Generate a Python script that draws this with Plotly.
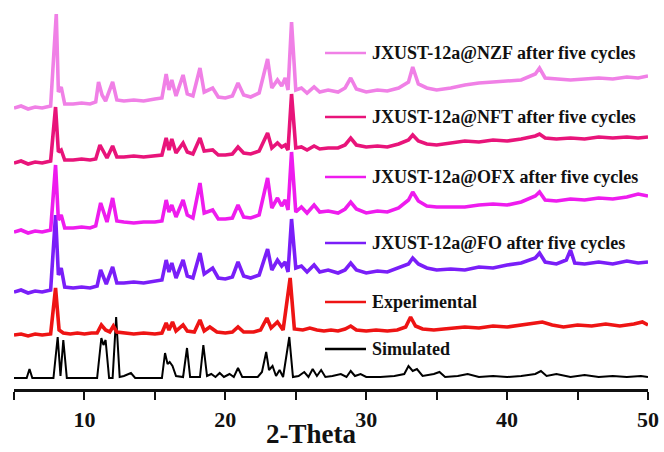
import plotly.graph_objects as go

# Powder XRD patterns, (2-theta, relative intensity) pairs, stacked bottom to top
SIMULATED = [
    (5.0, 0), (5.9, 0), (6.1, 9), (6.3, 0), (7.8, 0), (8.1, 41), (8.3, 2), (8.5, 38), (8.75, 0),
    (10.9, 0), (11.2, 40), (11.35, 33), (11.5, 38), (11.75, 0), (12.0, 0), (12.25, 61), (12.5, 1),
    (12.8, 2), (13.3, 5), (13.6, 0), (15.5, 0), (15.72, 25), (15.9, 14), (16.05, 16), (16.25, 12),
    (16.5, 2), (17.0, 1), (17.28, 30), (17.5, 1), (18.2, 1), (18.44, 33), (18.7, 2), (19.0, 4),
    (19.3, 1), (19.6, 5), (19.9, 1), (20.3, 4), (20.6, 1), (20.9, 10), (21.2, 1), (22.3, 1),
    (22.6, 6), (22.9, 26), (23.1, 8), (23.35, 12), (23.6, 2), (23.85, 8), (24.1, 1), (24.54, 41),
    (24.8, 1), (25.2, 2), (25.6, 6), (25.9, 1), (26.2, 9), (26.5, 2), (26.8, 8), (27.1, 1),
    (27.6, 2), (28.2, 4), (28.6, 1), (28.9, 7), (29.2, 2), (29.6, 4), (30.0, 1), (31.0, 1),
    (32.0, 2), (32.7, 4), (33.0, 12), (33.3, 7), (33.6, 9), (34.0, 2), (34.8, 4), (35.2, 6),
    (35.6, 1), (36.5, 2), (37.2, 4), (38.0, 1), (39.0, 2), (40.0, 1), (41.0, 2), (42.0, 4),
    (42.4, 7), (42.8, 2), (43.5, 4), (44.5, 1), (45.5, 3), (46.5, 1), (47.5, 2), (48.5, 1),
    (49.5, 2), (50.0, 1),
]

EXPERIMENTAL = [
    (5.0, 0), (5.5, 1), (6.0, -1), (6.5, 1), (7.0, 0), (7.6, 1), (7.95, 47), (8.2, 5), (8.5, 2),
    (9.0, 1), (9.5, 2), (10.0, 1), (10.5, 2), (10.9, 2), (11.2, 10), (11.5, 5), (11.8, 3),
    (12.05, 9), (12.3, 3), (12.8, 2), (13.5, 1), (14.2, 2), (15.0, 1), (15.5, 2), (15.8, 12),
    (16.0, 5), (16.25, 13), (16.5, 4), (17.0, 10), (17.3, 4), (17.8, 3), (18.2, 15), (18.5, 4),
    (18.9, 8), (19.4, 3), (20.0, 2), (20.5, 3), (20.9, 8), (21.3, 3), (22.0, 3), (22.5, 5),
    (22.95, 17), (23.25, 7), (23.7, 13), (24.1, 5), (24.6, 57), (24.9, 6), (25.5, 5), (26.0, 7),
    (26.5, 5), (27.0, 4), (27.5, 5), (28.0, 4), (28.5, 6), (28.9, 9), (29.3, 5), (30.0, 4),
    (30.7, 5), (31.5, 4), (32.2, 5), (32.8, 8), (33.15, 18), (33.5, 9), (34.0, 6), (34.8, 5),
    (35.5, 6), (36.3, 7), (37.0, 8), (38.0, 7), (39.0, 9), (40.0, 8), (41.0, 10), (42.0, 12),
    (42.5, 13), (43.2, 10), (44.0, 8), (45.0, 10), (46.0, 9), (47.0, 11), (48.0, 9), (49.0, 11),
    (49.6, 13), (50.0, 10),
]

FO_CYCLED = [
    (5.0, 0), (5.5, 2), (6.0, -1), (6.5, 1), (7.0, 0), (7.6, 2), (7.95, 77), (8.15, 17), (8.35, 24),
    (8.6, 5), (9.2, 4), (9.8, 5), (10.4, 4), (10.9, 6), (11.15, 22), (11.35, 14), (11.55, 8),
    (12.0, 25), (12.3, 9), (12.8, 9), (13.5, 10), (14.2, 9), (15.0, 11), (15.5, 12), (15.8, 32),
    (16.0, 20), (16.2, 29), (16.5, 14), (17.0, 32), (17.3, 16), (17.7, 14), (18.2, 39), (18.5, 18),
    (19.1, 24), (19.5, 14), (20.0, 13), (20.5, 15), (20.9, 30), (21.3, 16), (21.8, 14), (22.4, 17),
    (23.0, 43), (23.3, 22), (23.7, 32), (24.0, 26), (24.25, 30), (24.45, 20), (24.7, 73), (25.0, 24),
    (25.4, 26), (25.8, 20), (26.3, 27), (26.7, 20), (27.3, 22), (28.0, 19), (28.5, 22), (28.9, 29),
    (29.3, 22), (30.0, 19), (30.8, 21), (31.5, 20), (32.3, 24), (33.0, 28), (33.3, 34), (33.7, 28),
    (34.3, 24), (35.0, 22), (36.0, 23), (37.0, 22), (38.0, 25), (39.0, 24), (40.0, 27), (41.0, 29),
    (42.0, 34), (42.3, 39), (42.7, 30), (43.5, 28), (44.2, 32), (44.5, 42), (44.8, 29), (45.5, 28),
    (46.5, 30), (47.5, 28), (48.5, 31), (49.3, 29), (50.0, 30),
]

OFX_CYCLED = [
    (5.0, 0), (5.5, 2), (6.0, -1), (6.5, 1), (7.0, 0), (7.6, 2), (7.95, 67), (8.15, 12), (8.35, 17),
    (8.6, 4), (9.2, 4), (9.8, 5), (10.4, 4), (10.8, 6), (11.15, 29), (11.35, 20), (11.6, 10),
    (12.0, 34), (12.3, 11), (12.8, 10), (13.5, 9), (14.2, 10), (15.0, 10), (15.5, 11), (15.8, 32),
    (16.0, 20), (16.2, 27), (16.5, 15), (17.0, 32), (17.3, 17), (17.7, 14), (18.2, 49), (18.5, 19),
    (19.1, 22), (19.5, 13), (20.0, 13), (20.5, 14), (20.9, 27), (21.3, 15), (21.8, 14), (22.4, 17),
    (23.0, 54), (23.3, 24), (23.7, 34), (24.0, 26), (24.25, 32), (24.45, 22), (24.7, 80), (25.0, 20),
    (25.4, 25), (25.8, 19), (26.3, 27), (26.7, 20), (27.3, 21), (28.0, 19), (28.5, 23), (28.9, 30),
    (29.3, 23), (30.0, 19), (30.8, 21), (31.5, 20), (32.3, 24), (33.0, 32), (33.3, 40), (33.7, 31),
    (34.3, 26), (35.0, 25), (36.0, 25), (37.0, 25), (38.0, 27), (39.0, 28), (40.0, 27), (41.0, 30),
    (42.0, 36), (42.3, 40), (42.7, 32), (43.5, 31), (44.5, 33), (45.5, 32), (46.5, 34), (47.5, 33),
    (48.5, 35), (49.3, 38), (50.0, 36),
]

NFT_CYCLED = [
    (5.0, 0), (5.5, 2), (6.0, -1), (6.5, 1), (7.0, 0), (7.6, 2), (7.95, 56), (8.15, 11), (8.35, 13),
    (8.6, 3), (9.2, 3), (9.8, 4), (10.4, 3), (10.8, 4), (11.1, 18), (11.35, 11), (11.6, 5),
    (12.0, 17), (12.3, 6), (12.8, 6), (13.5, 7), (14.2, 6), (15.0, 7), (15.5, 8), (15.8, 25),
    (16.0, 13), (16.2, 24), (16.5, 10), (17.0, 20), (17.3, 11), (17.7, 9), (18.2, 25), (18.5, 12),
    (19.1, 13), (19.5, 8), (20.0, 8), (20.5, 9), (20.9, 16), (21.3, 10), (21.8, 9), (22.4, 12),
    (23.0, 30), (23.3, 15), (23.7, 20), (24.0, 16), (24.25, 18), (24.45, 13), (24.7, 69), (25.0, 15),
    (25.4, 16), (25.8, 13), (26.3, 17), (26.7, 14), (27.3, 15), (28.0, 15), (28.5, 18), (28.9, 25),
    (29.3, 18), (30.0, 16), (30.8, 17), (31.5, 16), (32.3, 19), (33.0, 23), (33.3, 28), (33.7, 22),
    (34.3, 19), (35.0, 18), (36.0, 20), (37.0, 22), (38.0, 21), (39.0, 23), (40.0, 22), (41.0, 24),
    (42.0, 27), (42.3, 29), (42.7, 25), (43.5, 24), (44.5, 25), (45.5, 24), (46.5, 26), (47.5, 25),
    (48.5, 26), (49.3, 25), (50.0, 26),
]

NZF_CYCLED = [
    (5.0, 0), (5.5, 2), (6.0, -1), (6.5, 1), (7.0, 0), (7.6, 2), (8.0, 94), (8.15, 16), (8.35, 21),
    (8.6, 4), (9.2, 4), (9.8, 5), (10.4, 4), (10.8, 6), (11.0, 26), (11.25, 13), (11.5, 7),
    (12.0, 26), (12.3, 8), (12.8, 7), (13.5, 8), (14.2, 7), (15.0, 9), (15.5, 10), (15.8, 34),
    (16.0, 18), (16.2, 28), (16.5, 12), (17.0, 33), (17.3, 14), (17.7, 12), (18.2, 40), (18.5, 16),
    (19.1, 20), (19.5, 11), (20.0, 10), (20.5, 12), (20.9, 25), (21.3, 13), (21.8, 11), (22.4, 15),
    (23.0, 49), (23.3, 20), (23.7, 28), (24.0, 22), (24.25, 30), (24.45, 18), (24.7, 86), (25.0, 18),
    (25.4, 20), (25.8, 15), (26.3, 21), (26.7, 16), (27.3, 18), (28.0, 16), (28.5, 20), (28.9, 30),
    (29.3, 19), (30.0, 16), (30.8, 18), (31.5, 17), (32.3, 20), (33.0, 26), (33.3, 41), (33.7, 24),
    (34.3, 20), (35.0, 18), (36.0, 20), (37.0, 23), (38.0, 25), (39.0, 26), (40.0, 27), (41.0, 28),
    (42.0, 34), (42.3, 40), (42.7, 30), (43.5, 29), (44.5, 28), (45.5, 29), (46.5, 30), (47.5, 29),
    (48.5, 31), (49.3, 30), (50.0, 32),
]

NAMES = [
    "Simulated",
    "Experimental",
    "JXUST-12a@FO after five cycles",
    "JXUST-12a@OFX after five cycles",
    "JXUST-12a@NFT after five cycles",
    "JXUST-12a@NZF after five cycles",
]
PATTERNS = [SIMULATED, EXPERIMENTAL, FO_CYCLED, OFX_CYCLED, NFT_CYCLED, NZF_CYCLED]

# vertical stacking of the patterns
OFFSETS = [11, 54, 97, 157, 226, 281]
COLORS = ["#000000", "#EE1414", "#7A1EF8", "#EE1CEE", "#E8147A", "#F080E6"]
WIDTHS = [2.0, 3.6, 3.6, 3.6, 3.6, 3.6]
# label rows (pixel rows from the top) for the in-plot key, same order as NAMES
KEY_Y = [349, 302, 243, 177, 117, 53]

W, H = 664, 452
ML, MR, MT, MB = 14, 16, 0, 63
PW, PH = W - ML - MR, H - MT - MB
SERIF = "Liberation Serif, Times New Roman, serif"

fig = go.Figure()
for pts, off, col, lw, name in zip(PATTERNS, OFFSETS, COLORS, WIDTHS, NAMES):
    xs = [p[0] for p in pts]
    ys = [p[1] + off for p in pts]
    fig.add_trace(go.Scatter(x=xs, y=ys, mode="lines", name=name,
                             line=dict(color=col, width=lw, shape="linear"),
                             showlegend=False))

shapes, annotations = [], []
for name, col, ky in zip(NAMES, COLORS, KEY_Y):
    yp = (H - MB - ky) / PH
    shapes.append(dict(type="line", xref="paper", yref="paper",
                       x0=(325 - ML) / PW, x1=(366 - ML) / PW, y0=yp, y1=yp,
                       line=dict(color=col, width=2.5)))
    annotations.append(dict(xref="paper", yref="paper", x=(370 - ML) / PW, y=yp,
                            xanchor="left", yanchor="middle", showarrow=False,
                            text="<b>%s</b>" % name,
                            font=dict(family=SERIF, size=18, color="#111111")))

annotations.append(dict(xref="paper", yref="paper", x=(311 - ML) / PW,
                        y=(H - MB - 434) / PH, xanchor="center", yanchor="middle",
                        showarrow=False, text="<b>2-Theta</b>", borderpad=0,
                        font=dict(family=SERIF, size=27, color="#111111")))

fig.update_layout(
    width=W, height=H,
    margin=dict(l=ML, r=MR, t=MT, b=MB),
    paper_bgcolor="white", plot_bgcolor="white",
    shapes=shapes, annotations=annotations,
    xaxis=dict(range=[5, 50], tick0=0, dtick=10, showgrid=False, zeroline=False,
               showline=True, linecolor="#111111", linewidth=3,
               ticks="outside", ticklen=8, tickwidth=2, tickcolor="#111111",
               ticklabelstandoff=1,
               tickfont=dict(family=SERIF, size=22, color="#111111"),
               tickprefix="<b>", ticksuffix="</b>",
               minor=dict(dtick=5, ticks="outside", ticklen=8, tickwidth=2,
                          tickcolor="#111111", showgrid=False)),
    yaxis=dict(range=[0, PH], visible=False, showgrid=False, zeroline=False),
)

fig.write_html("out.html")
